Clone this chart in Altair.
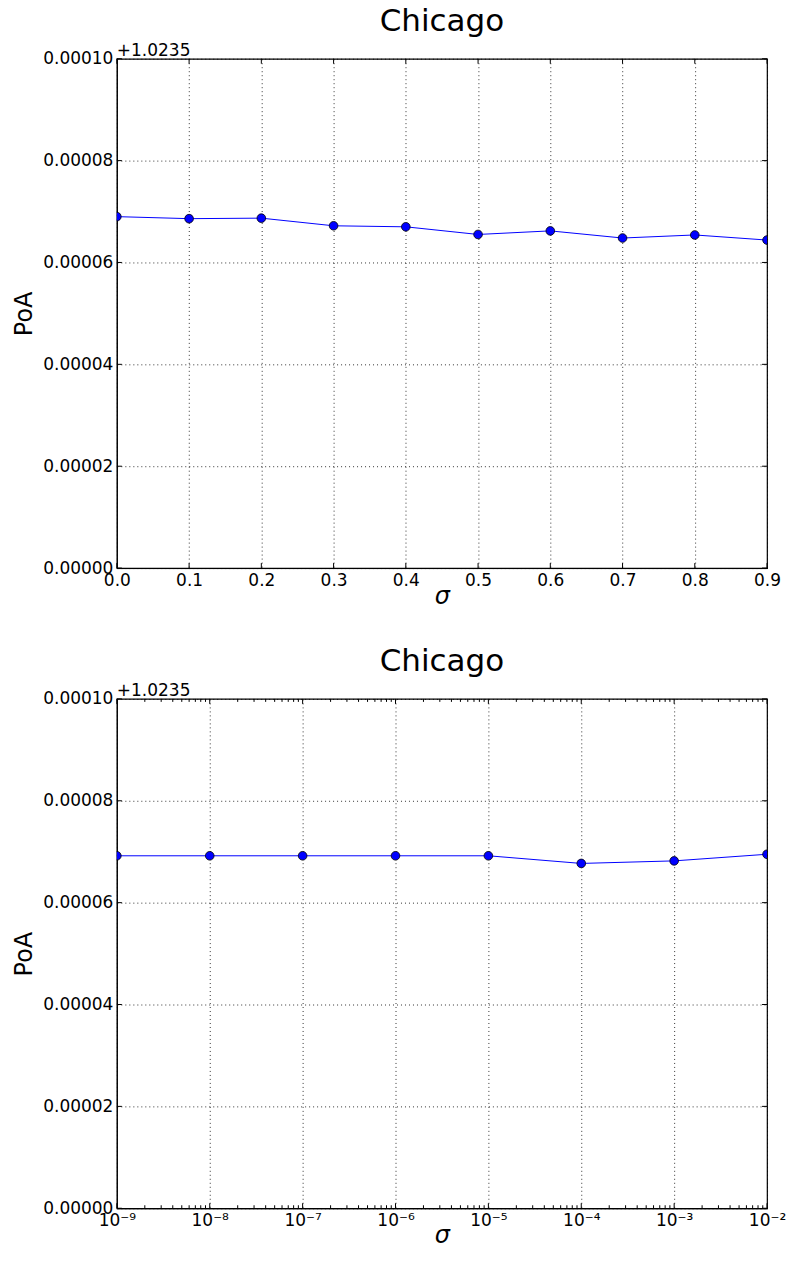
import altair as alt
import pandas as pd

OFFSET = 1.0235
CITY = "Chicago"

sigma_lin = [0.0, 0.1, 0.2, 0.3, 0.4, 0.5, 0.6, 0.7, 0.8, 0.9]
poa_lin = [1.0235690, 1.0235686, 1.0235687, 1.0235672, 1.0235670,
           1.0235655, 1.0235662, 1.0235648, 1.0235654, 1.0235644]

sigma_log = [1e-9, 1e-8, 1e-7, 1e-6, 1e-5, 1e-4, 1e-3, 1e-2]
poa_log = [1.0235692, 1.0235692, 1.0235692, 1.0235692, 1.0235692,
           1.0235677, 1.0235682, 1.0235695]

y_ticks = [0.0, 0.00002, 0.00004, 0.00006, 0.00008, 0.00010]
lin_ticks = [0.0, 0.1, 0.2, 0.3, 0.4, 0.5, 0.6, 0.7, 0.8, 0.9]
log_ticks = [1e-9, 1e-8, 1e-7, 1e-6, 1e-5, 1e-4, 1e-3, 1e-2]
log_minor = [m * 10.0 ** e for e in range(-9, -2) for m in range(2, 10)]

W, H = 651, 510
BLUE = "#0000ff"
FONT = "DejaVu Sans"

sup = "replace(replace(replace(replace(replace(replace(replace(replace(replace(" \
      "'' + round(log(datum.value)/LN10), '-', '⁻'), '9', '⁹'), '8', '⁸'), '7', '⁷'), " \
      "'6', '⁶'), '5', '⁵'), '4', '⁴'), '3', '³'), '2', '²')"


def panel(sig, poa, xscale, xaxis, xmajor, xminor):
    df = pd.DataFrame({"sigma": sig, "poa": poa})
    yscale = alt.Scale(domain=[0, 0.0001], nice=False, zero=False)
    yaxis = alt.Axis(values=y_ticks, format=".5f", title="PoA",
                     labelFlush=False, labelOverlap=False, titlePadding=6)
    base = alt.Chart(df).transform_calculate(d=f"datum.poa - {OFFSET}")
    x = alt.X("sigma:Q", scale=xscale, axis=xaxis)
    y = alt.Y("d:Q", scale=yscale, axis=yaxis)
    line = base.mark_line(color=BLUE, strokeWidth=1, clip=True).encode(x=x, y=y)
    pts = base.mark_point(shape="circle", filled=True, fill=BLUE, stroke="black",
                          strokeWidth=0.8, size=75, opacity=1, clip=True).encode(x=x, y=y)

    layers = []
    mj = pd.DataFrame({"sigma": xmajor})
    layers.append(alt.Chart(mj).mark_rule(color="black", strokeWidth=1).encode(
        x=x, y=alt.value(H), y2=alt.value(H - 5)))
    layers.append(alt.Chart(mj).mark_rule(color="black", strokeWidth=1).encode(
        x=x, y=alt.value(0), y2=alt.value(5)))
    if xminor:
        mn = pd.DataFrame({"sigma": xminor})
        layers.append(alt.Chart(mn).mark_rule(color="black", strokeWidth=1).encode(
            x=x, y=alt.value(H), y2=alt.value(H - 3)))
        layers.append(alt.Chart(mn).mark_rule(color="black", strokeWidth=1).encode(
            x=x, y=alt.value(0), y2=alt.value(3)))
    yt = pd.DataFrame({"d": y_ticks})
    layers.append(alt.Chart(yt).mark_rule(color="black", strokeWidth=1).encode(
        y=y, x=alt.value(0), x2=alt.value(5)))
    layers.append(alt.Chart(yt).mark_rule(color="black", strokeWidth=1).encode(
        y=y, x=alt.value(W - 5), x2=alt.value(W)))

    off = alt.Chart(pd.DataFrame({"s": [f"+{OFFSET}"]})).mark_text(
        align="left", baseline="alphabetic", fontSize=17, font=FONT, color="black"
    ).encode(text="s:N", x=alt.value(0), y=alt.value(-3))

    ttl = alt.Chart(pd.DataFrame({"s": [CITY]})).mark_text(
        align="center", baseline="top", fontSize=31, font=FONT, color="black"
    ).encode(text="s:N", x=alt.value(W / 2), y=alt.value(-52))

    return alt.layer(line, pts, *layers, off, ttl).properties(width=W, height=H)


top = panel(
    sigma_lin, poa_lin,
    alt.Scale(domain=[0, 0.9], nice=False, zero=False),
    alt.Axis(values=lin_ticks, format=".1f", title="σ", labelFlush=False,
             labelOverlap=False, titleFontStyle="italic", titlePadding=-4),
    lin_ticks, None,
)

bottom = panel(
    sigma_log, poa_log,
    alt.Scale(type="log", domain=[1e-9, 1e-2], nice=False),
    alt.Axis(values=log_ticks, labelExpr="'10' + " + sup, title="σ",
             labelFlush=False, labelOverlap=False, titleFontStyle="italic",
             titlePadding=-5),
    log_ticks, log_minor,
)

chart = alt.vconcat(top, bottom, spacing=36).configure_view(
    stroke="black", strokeWidth=1.2
).configure_axis(
    labelFont=FONT, labelFontSize=17, labelColor="black",
    titleFont=FONT, titleFontSize=24, titleFontWeight="normal",
    titleColor="black", domainColor="black", ticks=False, labelPadding=4,
    grid=True, gridColor="black", gridDash=[1, 3], gridWidth=1, gridOpacity=0.8,
).properties(background="white",
             padding={"left": 4, "top": -4, "right": 0, "bottom": -3})

chart.save("out.html", embed_options={"renderer": "svg", "actions": False})
